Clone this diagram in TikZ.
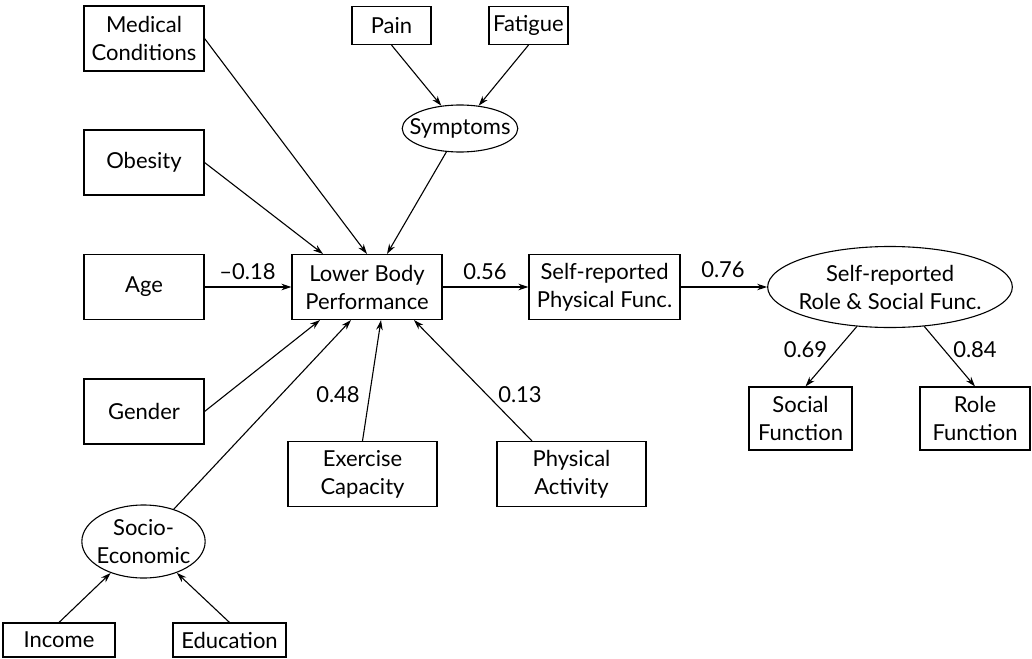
\documentclass[tikz,border=0pt]{standalone}
\usepackage{fontspec}
\setmainfont{Lato}
\usetikzlibrary{shapes.geometric,arrows.meta}
\begin{document}
\begin{tikzpicture}[x=1pt,y=-1pt,
  every node/.style={font=\fontsize{22}{28}\selectfont, align=center, inner sep=0pt},
  box/.style={draw, line width=1.1pt, minimum width=#1, minimum height=65pt},
  sbox/.style={draw, line width=1.1pt, minimum width=#1, minimum height=38pt},
  lat/.style={draw, ellipse, line width=1.1pt, inner xsep=#1},
  path/.style={line width=1.1pt, -{Stealth[length=10pt,width=6.5pt]}},
  coef/.style={}]
\useasboundingbox (0,0) rectangle (1032,658);

% observed and latent variables
\node[box=120pt] (med) at (144,38.5) {Medical\\Conditions};
\node[box=120pt] (obes) at (144,162.5) {Obesity};
\node[box=120pt] (age) at (144,287) {Age};
\node[box=120pt] (gend) at (144,411.5) {Gender};
\node[box=150pt] (lbp) at (367,287) {Lower Body\\Performance};
\node[box=151pt] (srpf) at (604.5,287) {Self-reported\\Physical Func.};
\node[lat=-5pt, minimum height=81pt] (srrs) at (890,287) {Self-reported\\Role \& Social Func.};
\node[box=103pt, minimum height=63pt] (soc) at (800.5,418.5) {Social\\Function};
\node[box=110pt, minimum height=63pt] (role) at (975,418.5) {Role\\Function};
\node[sbox=79pt] (pain) at (391.5,25.5) {Pain};
\node[sbox=79pt] (fat) at (528.5,25.5) {Fatigue};
\node[lat=-9.6pt, minimum height=47pt] (sym) at (460,128.5) {Symptoms};
\node[box=149pt] (exc) at (362.5,474) {Exercise\\Capacity};
\node[box=149pt] (pa) at (571.5,474) {Physical\\Activity};
\node[lat=-3.2pt, minimum height=73pt] (ses) at (143.5,541.5) {Socio-\\Economic};
\node[sbox=112pt, minimum height=34pt] (inc) at (59,640) {Income};
\node[sbox=113pt, minimum height=34pt] (edu) at (229.5,640) {Education};

% paths
\draw[path] (pain.south) -- (sym);
\draw[path] (fat.south) -- (sym);
\draw[path] (med.east) -- (lbp.north);
\draw[path] (obes.east) -- ([xshift=-44pt]lbp.north);
\draw[path] (sym) -- ([xshift=20pt]lbp.north);
\draw[path] (age) -- (lbp);
\draw[path] (gend.east) -- ([xshift=-47pt]lbp.south);
\draw[path] (ses) -- ([xshift=-16pt]lbp.south);
\draw[path] (exc.north) -- ([xshift=14pt]lbp.south);
\draw[path] ([xshift=-39.5pt]pa.north) -- ([xshift=47pt]lbp.south);
\draw[path] (inc.north) -- (ses);
\draw[path] (edu.north) -- (ses);
\draw[path] (lbp) -- (srpf);
\draw[path] (srpf) -- (srrs);
\draw[path] (srrs.230) -- ([xshift=5pt]soc.north);
\draw[path] (srrs.311) -- (role.north);

% coefficients
\node[coef] (c1) at (247.5,272) {–0.18};
\node[coef] (c2) at (485,272) {0.56};
\node[coef] (c3) at (723,270) {0.76};
\node[coef] (c4) at (338,395) {0.48};
\node[coef] (c5) at (520,395) {0.13};
\node[coef] (c6) at (805.5,350) {0.69};
\node[coef] (c7) at (975,350) {0.84};
\end{tikzpicture}
\end{document}
